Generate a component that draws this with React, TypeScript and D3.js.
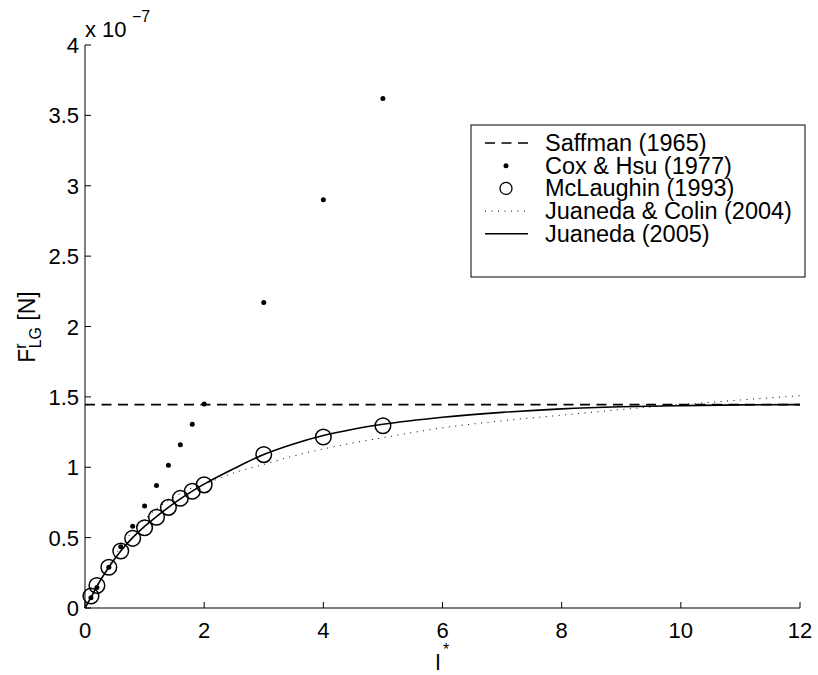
import * as d3 from "d3";

// Cox & Hsu (1977) points
const coxX = [0.1, 0.2, 0.4, 0.6, 0.8, 1.0, 1.2, 1.4, 1.6, 1.8, 2, 3, 4, 5];
const coxY = [0.072, 0.145, 0.29, 0.435, 0.58, 0.725, 0.87, 1.015, 1.16, 1.305, 1.45, 2.17, 2.9, 3.62];

// McLaughin (1993) circles
const mclX = [0.1, 0.2, 0.4, 0.6, 0.8, 1.0, 1.2, 1.4, 1.6, 1.8, 2, 3, 4, 5];
const mclY = [0.085, 0.16, 0.29, 0.405, 0.495, 0.57, 0.645, 0.715, 0.78, 0.83, 0.875, 1.09, 1.215, 1.295];

// Juaneda (2005) solid curve
const juaX = [0, 0.1, 0.2, 0.4, 0.6, 0.8, 1, 1.2, 1.4, 1.6, 1.8, 2, 2.5, 3, 3.5, 4, 4.5, 5, 6, 7, 8, 9, 10, 11, 12];
const juaY = [0, 0.075, 0.155, 0.29, 0.405, 0.5, 0.58, 0.65, 0.715, 0.775, 0.83, 0.88, 0.99, 1.09, 1.165, 1.225, 1.27, 1.305, 1.355, 1.39, 1.415, 1.43, 1.438, 1.443, 1.445];

// Juaneda & Colin (2004) dotted curve
const jcX = [0, 0.25, 0.5, 0.75, 1, 1.25, 1.5, 1.75, 2, 2.5, 3, 3.5, 4, 5, 6, 7, 8, 9, 10, 11, 12];
const jcY = [0, 0.19, 0.37, 0.52, 0.63, 0.72, 0.79, 0.845, 0.88, 0.96, 1.02, 1.08, 1.13, 1.21, 1.28, 1.33, 1.37, 1.41, 1.445, 1.478, 1.508];

// Saffman (1965) constant
const saffmanY = 1.445;

const xTicks = [0, 2, 4, 6, 8, 10, 12];
const yTicks = [0, 0.5, 1, 1.5, 2, 2.5, 3, 3.5, 4];

const legendLabels = ["Saffman (1965)", "Cox & Hsu (1977)", "McLaughin (1993)", "Juaneda & Colin (2004)", "Juaneda (2005)"];

export default function App() {
  const x = d3.scaleLinear().domain([0, 12]).range([85, 800]);
  const y = d3.scaleLinear().domain([0, 4]).range([608, 45]);
  const font = "'Liberation Sans', Arial, Helvetica, sans-serif";

  const line = d3
    .line<[number, number]>()
    .x((d) => x(d[0]))
    .y((d) => y(d[1]))
    .curve(d3.curveMonotoneX);

  const juaPath = line(juaX.map((v, i) => [v, juaY[i]])) || "";
  const jcPath = line(jcX.map((v, i) => [v, jcY[i]])) || "";

  const lx = 471;
  const ly = 125;
  const rowY = (i: number) => 143 + i * 22.7;

  return (
    <svg
      width={818}
      height={675}
      style={{ position: "absolute", left: 0, top: 0, background: "#fff" }}
      fontFamily={font}
    >
      <rect width={818} height={675} fill="#fff" />

      {/* Saffman dashed */}
      <line
        x1={x(0)}
        x2={x(12)}
        y1={y(saffmanY)}
        y2={y(saffmanY)}
        stroke="#000"
        strokeWidth={1.6}
        strokeDasharray="10,6.5"
      />

      {/* Juaneda & Colin dotted */}
      <path d={jcPath} fill="none" stroke="#000" strokeWidth={1} strokeDasharray="1,5.5" />

      {/* Juaneda solid */}
      <path d={juaPath} fill="none" stroke="#000" strokeWidth={1.6} />

      {/* Cox & Hsu dots */}
      {coxX.map((v, i) => (
        <circle key={"c" + i} cx={x(v)} cy={y(coxY[i])} r={2.5} fill="#000" />
      ))}

      {/* McLaughin circles */}
      {mclX.map((v, i) => (
        <circle key={"m" + i} cx={x(v)} cy={y(mclY[i])} r={7.8} fill="none" stroke="#000" strokeWidth={1.5} />
      ))}

      {/* axes */}
      <line x1={x(0)} x2={x(12)} y1={y(0)} y2={y(0)} stroke="#000" strokeWidth={1} />
      <line x1={x(0)} x2={x(0)} y1={y(0)} y2={y(4)} stroke="#000" strokeWidth={1} />
      {xTicks.map((t) => (
        <g key={"xt" + t}>
          <line x1={x(t)} x2={x(t)} y1={y(0)} y2={y(0) - 6} stroke="#000" />
          <text x={x(t)} y={638} fontSize={22} textAnchor="middle">
            {t}
          </text>
        </g>
      ))}
      {yTicks.map((t) => (
        <g key={"yt" + t}>
          <line x1={x(0)} x2={x(0) + 6} y1={y(t)} y2={y(t)} stroke="#000" />
          <text x={79} y={y(t) + 8} fontSize={22} textAnchor="end">
            {t}
          </text>
        </g>
      ))}

      {/* exponent */}
      <text x={85} y={37} fontSize={22}>
        x 10
      </text>
      <text x={132} y={22} fontSize={16}>
        −7
      </text>

      {/* x label */}
      <text x={438} y={670} fontSize={22} textAnchor="middle">
        l
      </text>
      <text x={446} y={655} fontSize={16} textAnchor="middle">
        *
      </text>

      {/* y label */}
      <text transform="translate(35,327) rotate(-90)" fontSize={23} textAnchor="middle">
        F
        <tspan fontSize={16} dy={-9}>
          r
        </tspan>
        <tspan fontSize={16} dy={15} dx={-5}>
          LG
        </tspan>
        <tspan dy={-6}> [N]</tspan>
      </text>

      {/* legend */}
      <rect x={lx} y={ly} width={334} height={152} fill="#fff" stroke="#000" strokeWidth={1} />
      <line x1={485} x2={528} y1={rowY(0)} y2={rowY(0)} stroke="#000" strokeWidth={1.6} strokeDasharray="10,6.5" />
      <circle cx={506} cy={rowY(1)} r={2.5} fill="#000" />
      <circle cx={506} cy={rowY(2)} r={6} fill="none" stroke="#000" strokeWidth={1.3} />
      <line x1={485} x2={528} y1={rowY(3)} y2={rowY(3)} stroke="#000" strokeWidth={1} strokeDasharray="1,5.5" />
      <line x1={485} x2={528} y1={rowY(4)} y2={rowY(4)} stroke="#000" strokeWidth={1.6} />
      {legendLabels.map((s, i) => (
        <text key={s} x={545} y={rowY(i) + 8} fontSize={23.5}>
          {s}
        </text>
      ))}
    </svg>
  );
}
